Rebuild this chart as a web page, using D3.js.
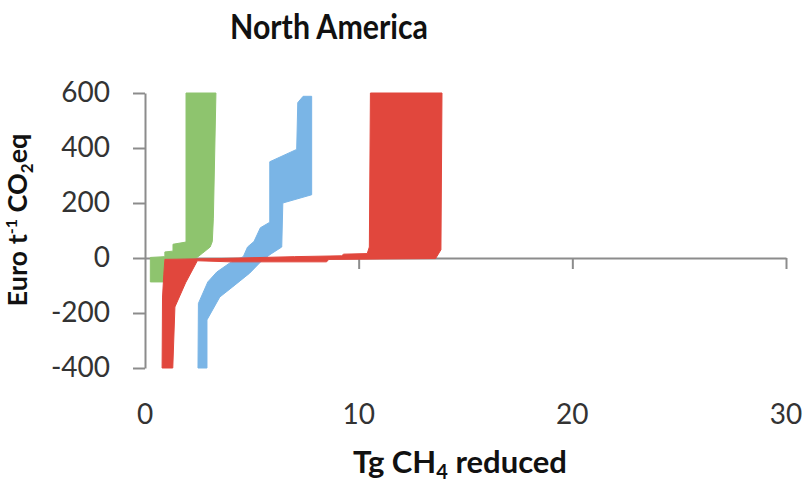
<!DOCTYPE html>
<html>
<head>
<meta charset="utf-8">
<script src="https://cdn.jsdelivr.net/npm/d3@7"></script>
<style>
  body { margin: 0; background: #fff; }
  svg { display: block; font-family: Lato, "Open Sans", sans-serif; }
</style>
</head>
<body>
<div id="main-content"></div>
<script>
// Axis ticks
const xTicks = [0, 10, 20, 30];
const yTicks = [-400, -200, 0, 200, 400, 600];

// Each band: [Tg CH4 reduced, Euro per t CO2eq] along its left and right edge
const greenLow = [[0.25, -87], [0.25, 2], [0.93, 5], [0.93, 22], [1.31, 25], [1.31, 50], [1.92, 58], [1.92, 600]];
const greenHigh = [[0.9, -87], [0.9, -3], [2.4, 0], [2.7, 18], [3.05, 40], [3.15, 60], [3.2, 145], [3.32, 600]];

const blueLow = [[2.48, -400], [2.5, -165], [2.94, -87], [3.36, -51], [3.97, -18], [4.6, 5], [4.8, 40], [5.1, 60], [5.4, 110], [5.84, 130], [5.84, 350], [7.1, 395], [7.15, 565], [7.4, 588]];
const blueHigh = [[2.9, -400], [2.9, -225], [3.5, -142], [4.1, -105], [4.9, -55], [5.5, -7], [5.9, 15], [6.4, 40], [6.45, 200], [7.8, 230], [7.8, 588]];

const redLow = [[0.8, -400], [0.82, -142], [0.88, -60], [0.93, -5], [3.5, -2], [7.0, 5], [9.2, 8], [9.3, 14], [10.4, 16], [10.5, 40], [10.55, 600]];
const redHigh = [[1.3, -400], [1.4, -178], [1.9, -90], [2.45, -10], [4.0, -14], [8.5, -14], [8.6, -5], [13.6, -2], [13.85, 30], [13.9, 600]];

const bands = [
  { name: "green", color: "#8ec46e", low: greenLow, high: greenHigh },
  { name: "blue", color: "#7ab5e6", low: blueLow, high: blueHigh },
  { name: "red", color: "#e1473d", low: redLow, high: redHigh }
];

function renderChart() {
  const width = 808;
  const height = 490;

  const svg = d3
    .select("#main-content")
    .append("svg")
    .attr("width", width)
    .attr("height", height);

  const x = d3.scaleLinear().domain([0, 30]).range([145, 786]);
  const y = d3.scaleLinear().domain([-400, 600]).range([368, 93]);

  // Title
  svg
    .append("text")
    .attr("x", 329)
    .attr("y", 39)
    .attr("text-anchor", "middle")
    .attr("font-size", 35)
    .attr("font-weight", "bold")
    .attr("fill", "#111")
    .attr("textLength", 198)
    .attr("lengthAdjust", "spacingAndGlyphs")
    .text("North America");

  // y axis on the left, plain hyphen for negatives
  const yAxis = svg
    .append("g")
    .attr("transform", "translate(" + x(0) + ",0)")
    .call(
      d3.axisLeft(y)
        .tickValues(yTicks)
        .tickSize(12)
        .tickSizeOuter(0)
        .tickPadding(23)
        .tickFormat(d => String(d))
    );
  yAxis.selectAll("path, line").attr("stroke", "#8c8c8c").attr("stroke-width", 2);
  yAxis.selectAll("text").attr("font-size", 28).attr("fill", "#333").attr("font-family", "Lato, sans-serif");

  // x axis runs along the zero line, labels sit below the plot
  const xAxis = svg
    .append("g")
    .attr("transform", "translate(0," + y(0) + ")")
    .call(d3.axisBottom(x).tickValues(xTicks.slice(1)).tickSize(11).tickSizeOuter(0).tickFormat(""));
  xAxis.selectAll("path, line").attr("stroke", "#8c8c8c").attr("stroke-width", 2);

  svg
    .append("g")
    .selectAll("text")
    .data(xTicks)
    .enter()
    .append("text")
    .attr("x", d => x(d))
    .attr("y", 424)
    .attr("text-anchor", "middle")
    .attr("font-size", 28)
    .attr("fill", "#333")
    .text(d => d);

  // Bands: left edge followed by the right edge walked backwards
  const outline = d3
    .line()
    .x(d => x(d[0]))
    .y(d => y(d[1]));

  svg
    .append("g")
    .selectAll("path")
    .data(bands)
    .enter()
    .append("path")
    .attr("d", d => outline(d.low.concat(d.high.slice().reverse())) + "Z")
    .attr("fill", d => d.color)
    .attr("stroke", d => d.color)
    .attr("stroke-width", 1);

  // Axis titles
  const xTitle = svg
    .append("text")
    .attr("x", 460)
    .attr("y", 473)
    .attr("text-anchor", "middle")
    .attr("font-size", 31)
    .attr("font-weight", "bold")
    .attr("fill", "#111");
  xTitle.append("tspan").text("Tg CH");
  xTitle.append("tspan").attr("font-size", 20).attr("dy", 6).text("4");
  xTitle.append("tspan").attr("dy", -6).text(" reduced");

  const yTitle = svg
    .append("text")
    .attr("transform", "translate(27,220) rotate(-90)")
    .attr("text-anchor", "middle")
    .attr("font-size", 27)
    .attr("font-weight", "bold")
    .attr("fill", "#111");
  yTitle.append("tspan").text("Euro t");
  yTitle.append("tspan").attr("font-size", 16).attr("dy", -10).text("-1");
  yTitle.append("tspan").attr("dy", 10).text(" CO");
  yTitle.append("tspan").attr("font-size", 17).attr("dy", 6).text("2");
  yTitle.append("tspan").attr("dy", -6).text("eq");
}

renderChart();
</script>
</body>
</html>
